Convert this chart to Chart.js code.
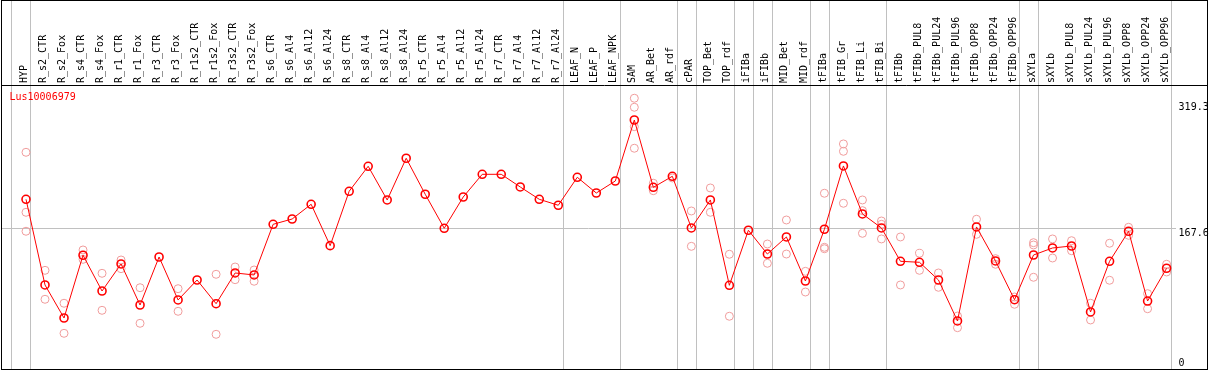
<!DOCTYPE html>
<html>
<head>
<meta charset="utf-8">
<script src="https://cdn.jsdelivr.net/npm/chart.js@4.4.1/dist/chart.umd.min.js"></script>
<style>
  html, body { margin: 0; padding: 0; background: #fff; }
  #wrap { width: 1209px; height: 370px; }
</style>
</head>
<body>
<div id="wrap"><canvas id="exprChart"></canvas></div>
<script>
const geneName = "Lus10006979";

const categories = [
  "HYP", "R_s2_CTR", "R_s2_Fox", "R_s4_CTR", "R_s4_Fox", "R_r1_CTR", "R_r1_Fox",
  "R_r3_CTR", "R_r3_Fox", "R_r1s2_CTR", "R_r1s2_Fox", "R_r3s2_CTR", "R_r3s2_Fox",
  "R_s6_CTR", "R_s6_Al4", "R_s6_Al12", "R_s6_Al24", "R_s8_CTR", "R_s8_Al4",
  "R_s8_Al12", "R_s8_Al24", "R_r5_CTR", "R_r5_Al4", "R_r5_Al12", "R_r5_Al24",
  "R_r7_CTR", "R_r7_Al4", "R_r7_Al12", "R_r7_Al24", "LEAF_N", "LEAF_P", "LEAF_NPK",
  "SAM", "AR_Bet", "AR_rdf", "cPAR", "TOP_Bet", "TOP_rdf", "iFIBa", "iFIBb",
  "MID_Bet", "MID_rdf", "tFIBa", "tFIB_Gr", "tFIB_Li", "tFIB_Bi", "tFIBb",
  "tFIBb_PUL8", "tFIBb_PUL24", "tFIBb_PUL96", "tFIBb_OPP8", "tFIBb_OPP24",
  "tFIBb_OPP96", "sXYLa", "sXYLb", "sXYLb_PUL8", "sXYLb_PUL24", "sXYLb_PUL96",
  "sXYLb_OPP8", "sXYLb_OPP24", "sXYLb_OPP96",
];

// mean expression per sample
const meanValues = [
  202.6, 99.1, 59.2, 135.0, 91.8, 124.5, 74.9, 132.9, 81.0, 105.1, 76.5, 113.6, 111.2,
  172.4, 178.8, 196.6, 146.6, 212.3, 242.5, 201.8, 252.2, 208.7, 167.6, 205.4, 232.8,
  232.8, 217.5, 202.6, 195.4, 229.2, 210.2, 224.7,
  298.4, 217.1, 230.4, 168.0, 201.8, 98.7, 165.2, 136.5, 157.1, 103.9, 166.4,
  242.9, 184.9, 168.0, 127.7, 126.5, 105.1, 55.6, 169.2, 128.1, 81.3,
  135.3, 143.8, 146.2, 66.5, 127.7, 164.0, 79.7, 119.3,
];

// single replicates: [sample index, value]
const replicates = [
  [0, 259.4], [0, 186.9], [0, 164.0],
  [1, 116.8], [1, 81.8], [2, 77.0], [2, 40.7], [3, 141.4], [3, 130.1],
  [4, 113.2], [4, 68.5], [5, 129.3], [5, 118.8], [6, 95.8], [6, 52.8],
  [8, 94.6], [8, 67.3], [10, 112.0], [10, 39.5], [11, 120.8], [11, 105.5],
  [12, 117.2], [12, 103.6],
  [32, 324.7], [32, 313.8], [32, 290.4], [32, 264.3],
  [33, 222.0], [33, 213.0], [34, 228.4], [35, 188.5], [35, 145.8],
  [36, 216.3], [36, 186.9], [37, 136.2], [37, 61.3], [39, 148.6], [39, 125.3],
  [40, 177.6], [40, 136.5], [41, 115.6], [41, 90.6],
  [42, 209.9], [42, 144.6], [42, 142.9], [43, 269.5], [43, 260.6], [43, 197.8],
  [44, 201.8], [44, 188.9], [44, 161.5], [45, 176.4], [45, 172.4], [45, 154.7],
  [46, 157.1], [46, 99.1], [47, 137.4], [47, 116.8], [48, 113.6], [48, 96.3],
  [49, 61.6], [49, 47.5], [50, 178.5], [50, 160.3], [51, 130.9], [51, 124.1],
  [52, 84.6], [52, 75.8], [53, 150.2], [53, 147.4], [53, 108.4],
  [54, 154.7], [54, 131.7], [55, 152.6], [55, 140.5], [56, 77.0], [56, 56.8],
  [57, 149.5], [57, 104.8], [58, 168.8], [58, 159.1], [59, 88.6], [59, 70.4],
  [60, 124.1], [60, 114.8],
];

const yTicks = [0, 167.6, 319.3];
const yMin = -2.42;
const yMax = 340.7;

// last sample of each tissue group (-1 = left edge)
const groupEnds = [-1, 0, 28, 31, 34, 35, 37, 38, 39, 41, 42, 45, 52, 53, 60];

const monoFont = "'DejaVu Sans Mono', monospace";

const framePlugin = {
  id: "frame",
  beforeDatasetsDraw(chart) {
    const { ctx } = chart;
    const xs = chart.scales.x;
    const ys = chart.scales.y;
    ctx.save();
    ctx.strokeStyle = "#c0c0c0";
    ctx.lineWidth = 1;
    groupEnds.forEach((g) => {
      const px = Math.round(xs.getPixelForValue(g + 0.226)) + 0.5;
      ctx.beginPath();
      ctx.moveTo(px, 0);
      ctx.lineTo(px, chart.height);
      ctx.stroke();
    });
    const py = Math.round(ys.getPixelForValue(yTicks[1])) + 0.5;
    ctx.beginPath();
    ctx.moveTo(1, py);
    ctx.lineTo(1176, py);
    ctx.stroke();
    ctx.restore();
  },
  afterDraw(chart) {
    const { ctx } = chart;
    ctx.save();
    ctx.strokeStyle = "#000";
    ctx.lineWidth = 1;
    ctx.strokeRect(1.5, 0.5, 1206, 369);
    ctx.beginPath();
    ctx.moveTo(1, 85.5);
    ctx.lineTo(1208, 85.5);
    ctx.stroke();
    ctx.fillStyle = "#ff0000";
    ctx.font = "10px " + monoFont;
    ctx.textBaseline = "alphabetic";
    ctx.fillText(geneName, 9.5, 100);
    ctx.restore();
  },
};

new Chart(document.getElementById("exprChart"), {
  type: "line",
  data: {
    labels: categories,
    datasets: [
      {
        label: geneName,
        data: meanValues,
        borderColor: "#ff0000",
        borderWidth: 1,
        pointRadius: 4,
        pointBorderWidth: 1.6,
        pointBorderColor: "#ff0000",
        pointBackgroundColor: "rgba(0,0,0,0)",
        tension: 0,
        clip: false,
      },
      {
        label: "replicates",
        data: replicates.map(([i, v]) => ({ x: categories[i], y: v })),
        showLine: false,
        pointRadius: 4,
        pointBorderWidth: 1,
        pointBorderColor: "#f09c9c",
        pointBackgroundColor: "rgba(0,0,0,0)",
        clip: false,
      },
    ],
  },
  options: {
    responsive: true,
    maintainAspectRatio: false,
    animation: false,
    events: [],
    layout: { autoPadding: false, padding: { left: 26, right: 0, top: 0, bottom: 1 } },
    plugins: {
      legend: { display: false },
      tooltip: { enabled: false },
    },
    scales: {
      x: {
        position: "top",
        offset: false,
        grid: { display: false, drawTicks: false },
        border: { display: false },
        ticks: {
          autoSkip: false,
          minRotation: 90,
          maxRotation: 90,
          padding: 2,
          color: "#000",
          font: { family: monoFont, size: 10, lineHeight: 0.15 },
        },
        afterFit: (scale) => {
          scale.height = 85;
          scale.paddingLeft = 0;
          scale.paddingRight = 0;
        },
      },
      y: {
        position: "right",
        min: yMin,
        max: yMax,
        grid: { display: false, drawTicks: false },
        border: { display: false },
        afterBuildTicks: (scale) => {
          scale.ticks = yTicks.map((v) => ({ value: v }));
        },
        ticks: {
          align: "start",
          padding: 12,
          color: "#000",
          font: { family: monoFont, size: 10, lineHeight: 1.8 },
          callback: (value) => (value === 0 ? ["0", ""] : String(value)),
        },
        afterFit: (scale) => {
          scale.width = 42.4;
          scale.paddingTop = 0;
          scale.paddingBottom = 0;
        },
      },
    },
  },
  plugins: [framePlugin],
});
</script>
</body>
</html>
